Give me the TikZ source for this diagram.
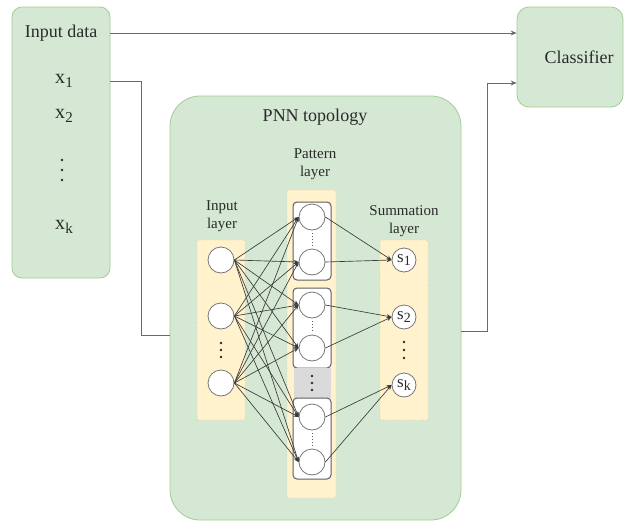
\documentclass[tikz,border=0pt]{standalone}
\usepackage{fontspec}
\setmainfont{Liberation Serif}
\usetikzlibrary{arrows.meta,calc}
\definecolor{gfill}{HTML}{D5E8D4}
\definecolor{gline}{HTML}{A3CC95}
\definecolor{yfill}{HTML}{FFF2CC}
\definecolor{yline}{HTML}{E3CC8F}
\definecolor{grayreg}{HTML}{DADADA}
\definecolor{edgec}{HTML}{3A3A3A}
\definecolor{wirec}{HTML}{6A6A6A}
\definecolor{txt}{HTML}{2A2A2A}
\definecolor{pline}{HTML}{5E5E5E}
\definecolor{cline}{HTML}{777777}
\begin{document}
\begin{tikzpicture}[x=1pt,y=-1pt,
  greenbox/.style={draw=gline, fill=gfill, line width=0.8pt},
  ylay/.style={draw=yline, fill=yfill, dotted, line width=0.7pt, rounded corners=2pt},
  pbox/.style={draw=pline, fill=white, line width=1pt, rounded corners=4pt},
  neuron/.style={circle, draw=cline, fill=white, line width=0.8pt, minimum size=26pt, inner sep=0pt, text=txt, font=\fontsize{17}{17}\selectfont},
  bigtext/.style={text=txt, font=\fontsize{18}{20}\selectfont},
  xtext/.style={text=txt, font=\fontsize{20}{20}\selectfont},
  smalltext/.style={text=txt, font=\fontsize{15}{18}\selectfont, align=center},
  blackdot/.style={circle, fill=txt, inner sep=0pt, minimum size=2.8pt},
  wire/.style={draw=wirec, line width=1pt},
  arrowtip/.style={-{Stealth[length=6pt,width=5pt]}},
  edge/.style={draw=edgec, line width=0.65pt, -{Stealth[length=5pt,width=4pt]}}
]
\useasboundingbox (0,0) rectangle (625,523);

% ---------- Input data ----------
\node[greenbox, rounded corners=10pt, minimum width=98pt, minimum height=271pt] (inbox) at (61,142.5) {};
\node[bigtext] (indata) at (61,33) {Input data};
\node[xtext] (x1) at (64,81) {x\raisebox{-0.35ex}{\fontsize{15}{15}\selectfont 1}};
\node[xtext] (x2) at (64,116) {x\raisebox{-0.35ex}{\fontsize{15}{15}\selectfont 2}};
\node[blackdot] (xd1) at (62,160) {};
\node[blackdot] (xd2) at (62,170) {};
\node[blackdot] (xd3) at (62,180) {};
\node[xtext] (xk) at (64,227) {x\raisebox{-0.35ex}{\fontsize{15}{15}\selectfont k}};

% ---------- Classifier ----------
\node[greenbox, rounded corners=12pt, minimum width=106pt, minimum height=100pt] (clf) at (570,57) {};
\node[bigtext] (clftext) at (579,57) {Classifier};

% ---------- PNN topology ----------
\node[greenbox, rounded corners=30pt, minimum width=291pt, minimum height=424pt] (pnn) at (315.5,308) {};
\node[bigtext] (pnntitle) at (315,117) {PNN topology};

% layer labels
\node[smalltext] (inlab) at (222,216) {Input\\layer};
\node[smalltext] (patlab) at (315,164) {Pattern\\layer};
\node[smalltext] (sumlab) at (404,221) {Summation\\layer};

% yellow layer boxes
\node[ylay, minimum width=48pt, minimum height=180pt] (inlay) at (221,330) {};
\node[ylay, minimum width=49pt, minimum height=308pt] (patlay) at (311.5,344) {};
\node[ylay, minimum width=48pt, minimum height=180pt] (sumlay) at (404,330) {};

% pattern sub-boxes
\node[pbox, minimum width=38pt, minimum height=78pt] (pb1) at (312,241) {};
\node[pbox, minimum width=38pt, minimum height=80pt] (pb2) at (312,328) {};
\node[fill=grayreg, minimum width=37pt, minimum height=30pt, inner sep=0pt] (gap) at (312,383) {};
\node[pbox, minimum width=38pt, minimum height=81pt] (pb3) at (312,438.5) {};

% input neurons
\node[neuron] (i1) at (221,260) {};
\node[neuron] (i2) at (221,316) {};
\node[neuron] (i3) at (221,383) {};
\node[blackdot] (id1) at (221,343) {};
\node[blackdot] (id2) at (221,350) {};
\node[blackdot] (id3) at (221,357) {};

% pattern neurons
\node[neuron] (p1) at (312,217) {};
\node[neuron] (p2) at (312,262) {};
\node[neuron] (p3) at (312,305) {};
\node[neuron] (p4) at (312,348) {};
\node[neuron] (p5) at (312,417) {};
\node[neuron] (p6) at (312,462) {};
\draw[pline, dotted, line width=0.8pt] ($(p1.south)+(0,3)$) -- ($(p2.north)+(0,-3)$);
\draw[pline, dotted, line width=0.8pt] ($(p3.south)+(0,3)$) -- ($(p4.north)+(0,-3)$);
\draw[pline, dotted, line width=0.8pt] ($(p5.south)+(0,3)$) -- ($(p6.north)+(0,-3)$);
\node[blackdot] (gd1) at (312,376) {};
\node[blackdot] (gd2) at (312,383) {};
\node[blackdot] (gd3) at (312,390) {};

% summation neurons
\node[neuron, minimum size=24pt] (s1) at (404,260) {s\raisebox{-0.4ex}{\fontsize{14}{14}\selectfont 1}};
\node[neuron, minimum size=24pt] (s2) at (404,317) {s\raisebox{-0.4ex}{\fontsize{14}{14}\selectfont 2}};
\node[neuron, minimum size=24pt] (sk) at (404,385) {s\raisebox{-0.4ex}{\fontsize{14}{14}\selectfont k}};
\node[blackdot] (sd1) at (404,342) {};
\node[blackdot] (sd2) at (404,350) {};
\node[blackdot] (sd3) at (404,358) {};

% input -> pattern edges
\foreach \a in {i1,i2,i3}{
  \foreach \b in {p1,p2,p3,p4,p5,p6}{
    \draw[edge] (\a.east) -- (\b.west);
  }
}
% pattern -> summation edges
\draw[edge] (p1.east) -- (s1.west);
\draw[edge] (p2.east) -- (s1.west);
\draw[edge] (p3.east) -- (s2.west);
\draw[edge] (p4.east) -- (s2.west);
\draw[edge] (p5.east) -- (sk.west);
\draw[edge] (p6.east) -- (sk.west);

% ---------- outer wires ----------
\coordinate (jl) at (141,335);
\coordinate (jr) at (487,331);
\coordinate (jt) at (487,83);
\draw[wire, arrowtip] (inbox.east |- indata) -- (clf.west |- indata);
\draw[wire] (inbox.east |- x1) -| (jl) -- (pnn.west |- jl);
\draw[wire, arrowtip] (pnn.east |- jr) -- (jr) -- (jt) -- (clf.west |- jt);
\end{tikzpicture}
\end{document}
